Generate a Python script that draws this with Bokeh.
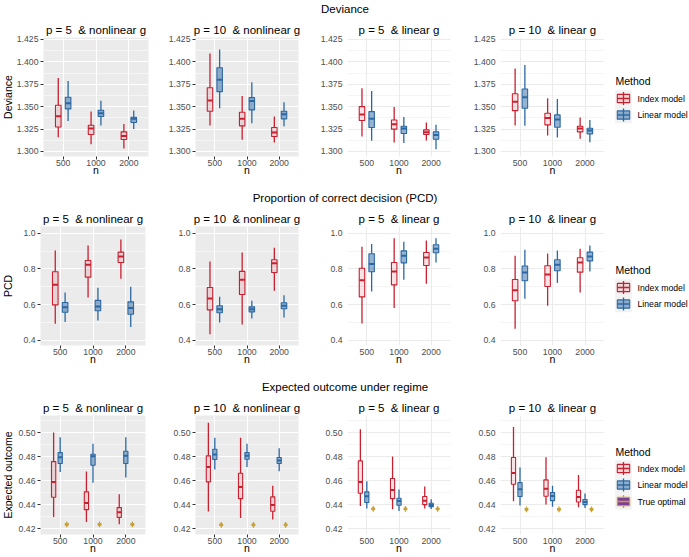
import math
from bokeh.plotting import figure
from bokeh.layouts import column, row
from bokeh.models import Range1d, FixedTicker, ColumnDataSource, NumeralTickFormatter
from bokeh.core.properties import value
from bokeh.embed import file_html
from bokeh.resources import INLINE

FONT = "Liberation Sans"
NB = "\u00a0"

# ---------------- data ----------------
n_levels = ["500", "1000", "2000"]
section_titles = ["Deviance", "Proportion of correct decision (PCD)", "Expected outcome under regime"]
panel_titles = ["p = 5" + NB + NB + "& nonlinear g", "p = 10" + NB + NB + "& nonlinear g",
                "p = 5" + NB + NB + "& linear g", "p = 10" + NB + NB + "& linear g"]
y_axis_titles = ["Deviance", "PCD", "Expected outcome"]
method_names = ["Index model", "Linear model", "True optimal"]

dev_ticks = [1.300, 1.325, 1.350, 1.375, 1.400, 1.425]
dev_minor = [1.3125, 1.3375, 1.3625, 1.3875, 1.4125]
pcd_ticks = [0.4, 0.6, 0.8, 1.0]
pcd_minor = [0.5, 0.7, 0.9]
eo_ticks = [0.42, 0.44, 0.46, 0.48, 0.50]
eo_minor = [0.43, 0.45, 0.47, 0.49, 0.51]

# five-number summaries [lower whisker, Q1, median, Q3, upper whisker] for n = 500, 1000, 2000
dev_p5_nl_index = [[1.316, 1.3274, 1.3393, 1.3516, 1.382], [1.308, 1.3189, 1.3256, 1.3293, 1.3445], [1.3033, 1.3134, 1.3174, 1.3219, 1.3308]]
dev_p5_nl_linear = [[1.334, 1.3475, 1.3538, 1.3605, 1.3786], [1.329, 1.339, 1.3427, 1.346, 1.3567], [1.3252, 1.3323, 1.3364, 1.3382, 1.3456]]
dev_p10_nl_index = [[1.3289, 1.3449, 1.3568, 1.3712, 1.4094], [1.313, 1.3286, 1.3364, 1.3438, 1.3619], [1.31, 1.3167, 1.3211, 1.3267, 1.339]]
dev_p10_nl_linear = [[1.3482, 1.3668, 1.3801, 1.3935, 1.4139], [1.3315, 1.3464, 1.3564, 1.3601, 1.3772], [1.3282, 1.3364, 1.3415, 1.3449, 1.3549]]
dev_p5_l_index = [[1.3167, 1.3345, 1.3412, 1.3501, 1.3705], [1.31, 1.3249, 1.3304, 1.3352, 1.3497], [1.3122, 1.3189, 1.3215, 1.3241, 1.3323]]
dev_p5_l_linear = [[1.3119, 1.3267, 1.3364, 1.3445, 1.3675], [1.3096, 1.32, 1.3256, 1.3282, 1.3386], [1.3026, 1.3137, 1.3185, 1.3219, 1.3297]]
dev_p10_l_index = [[1.3289, 1.3456, 1.3556, 1.3645, 1.3927], [1.3178, 1.3297, 1.3375, 1.3427, 1.3593], [1.3141, 1.3219, 1.3256, 1.3282, 1.3378]]
dev_p10_l_linear = [[1.3286, 1.3482, 1.3605, 1.3697, 1.3964], [1.3156, 1.3271, 1.3356, 1.3408, 1.3586], [1.3104, 1.3197, 1.3234, 1.326, 1.3352]]

pcd_p5_nl_index = [[0.493, 0.599, 0.711, 0.784, 0.903], [0.640, 0.754, 0.823, 0.847, 0.931], [0.745, 0.836, 0.870, 0.894, 0.965]]
pcd_p5_nl_linear = [[0.503, 0.558, 0.586, 0.612, 0.668], [0.512, 0.566, 0.590, 0.624, 0.695], [0.475, 0.547, 0.581, 0.616, 0.700]]
pcd_p10_nl_index = [[0.435, 0.571, 0.635, 0.696, 0.842], [0.489, 0.657, 0.739, 0.786, 0.892], [0.678, 0.780, 0.831, 0.851, 0.918]]
pcd_p10_nl_linear = [[0.501, 0.555, 0.575, 0.594, 0.644], [0.523, 0.560, 0.575, 0.588, 0.622], [0.529, 0.577, 0.594, 0.611, 0.653]]
pcd_p5_l_index = [[0.495, 0.644, 0.737, 0.804, 0.924], [0.581, 0.711, 0.786, 0.836, 0.972], [0.717, 0.819, 0.864, 0.892, 0.959]]
pcd_p5_l_linear = [[0.674, 0.784, 0.827, 0.885, 0.939], [0.739, 0.834, 0.873, 0.901, 0.952], [0.836, 0.890, 0.913, 0.935, 0.972]]
pcd_p10_l_index = [[0.465, 0.622, 0.681, 0.741, 0.873], [0.594, 0.702, 0.769, 0.818, 0.886], [0.668, 0.782, 0.836, 0.862, 0.913]]
pcd_p10_l_linear = [[0.633, 0.734, 0.780, 0.816, 0.907], [0.721, 0.790, 0.823, 0.851, 0.903], [0.786, 0.845, 0.870, 0.894, 0.931]]

eo_p5_nl_index = [[0.4297, 0.4461, 0.4589, 0.4758, 0.5000], [0.4256, 0.4358, 0.4414, 0.4506, 0.4675], [0.4236, 0.4294, 0.4336, 0.4375, 0.4486]]
eo_p5_nl_linear = [[0.4672, 0.4742, 0.4794, 0.4833, 0.4961], [0.4583, 0.4728, 0.4803, 0.4819, 0.4906], [0.4625, 0.4742, 0.4806, 0.4844, 0.4961]]
eo_p5_nl_optimal = [[0.4212, 0.4229, 0.4236, 0.4243, 0.4260]] * 3
eo_p10_nl_index = [[0.4342, 0.4589, 0.4714, 0.4806, 0.5081], [0.4289, 0.4450, 0.4547, 0.4661, 0.4956], [0.4275, 0.4344, 0.4397, 0.4464, 0.4558]]
eo_p10_nl_linear = [[0.4692, 0.4775, 0.4817, 0.4861, 0.4956], [0.4714, 0.4778, 0.4806, 0.4833, 0.4906], [0.4678, 0.4742, 0.4767, 0.4792, 0.4869]]
eo_p10_nl_optimal = [[0.4208, 0.4225, 0.4232, 0.4239, 0.4256]] * 3
eo_p5_l_index = [[0.4389, 0.4494, 0.4589, 0.4764, 0.5028], [0.4361, 0.4450, 0.4522, 0.4617, 0.4800], [0.4367, 0.4400, 0.4433, 0.4467, 0.4550]]
eo_p5_l_linear = [[0.4367, 0.4417, 0.4469, 0.4506, 0.4594], [0.4347, 0.4394, 0.4431, 0.4453, 0.4525], [0.4364, 0.4383, 0.4397, 0.4411, 0.4444]]
eo_p5_l_optimal = [[0.4340, 0.4357, 0.4364, 0.4371, 0.4388]] * 3
eo_p10_l_index = [[0.4428, 0.4569, 0.4664, 0.4792, 0.5047], [0.4400, 0.4469, 0.4533, 0.4606, 0.4794], [0.4378, 0.4422, 0.4464, 0.4519, 0.4647]]
eo_p10_l_linear = [[0.4392, 0.4467, 0.4528, 0.4583, 0.4708], [0.4383, 0.4433, 0.4472, 0.4500, 0.4558], [0.4372, 0.4400, 0.4422, 0.4442, 0.4492]]
eo_p10_l_optimal = [[0.4337, 0.4354, 0.4361, 0.4368, 0.4385]] * 3

# ---------------- style ----------------
IDX_LINE, IDX_FILL, IDX_ALPHA = "#C8202F", "#C8202F", 0.12
LIN_LINE, LIN_FILL, LIN_ALPHA = "#2B68A3", "#2B68A3", 0.5
OPT_LINE, OPT_FILL, OPT_ALPHA = "#C9A232", "#7E3F98", 1.0
STYLES = [(IDX_LINE, IDX_FILL, IDX_ALPHA), (LIN_LINE, LIN_FILL, LIN_ALPHA), (OPT_LINE, OPT_FILL, OPT_ALPHA)]

TICK_FS = "8.7px"
AXT_FS = "10.5px"
TITLE_FS = "11.5px"

FRAME_H = 119
TOP = 20
SEC_H = 17
BOTTOMS = [33, 33, 23]
YLAB_W = 13
P1_LEFT = [30, 27, 27]
P2_LEFT = [42, 45, 45]
# (min_border_left, frame_width, min_border_right) per panel column (cols 0/1 left border per row above)
DIMS = [(None, 105, 5), (None, 103, 4), (45, 103, 4), (46, 104, 0)]
LEG_W = 85


def bare_fig(w, h, y_range):
    p = figure(width=w, height=h, x_range=Range1d(0, w), y_range=y_range,
               x_axis_type=None, y_axis_type=None, min_border=0,
               output_backend="svg", toolbar_location=None)
    p.outline_line_color = None
    return p


def draw_boxes(p, stats, x_centers, box_w, style):
    lc, fc, fa = style
    src = ColumnDataSource(dict(
        x=x_centers,
        left=[x - box_w / 2 for x in x_centers],
        right=[x + box_w / 2 for x in x_centers],
        lw=[s[0] for s in stats], q1=[s[1] for s in stats], med=[s[2] for s in stats],
        q3=[s[3] for s in stats], uw=[s[4] for s in stats]))
    p.segment(x0="x", y0="q3", x1="x", y1="uw", source=src, line_color=lc, line_width=1.3)
    p.segment(x0="x", y0="lw", x1="x", y1="q1", source=src, line_color=lc, line_width=1.3)
    p.quad(left="left", right="right", bottom="q1", top="q3", source=src,
           fill_color=fc, fill_alpha=fa, line_color=lc, line_width=1.1)
    p.segment(x0="left", y0="med", x1="right", y1="med", source=src, line_color=lc, line_width=2)


def make_panel(col, r, series, ticks, minor, yrange, fmt):
    left, fw, right = DIMS[col]
    if col == 0:
        left = P1_LEFT[r]
    elif col == 1:
        left = P2_LEFT[r]
    gray = col < 2
    p = figure(frame_width=fw, frame_height=FRAME_H, min_border_left=left, min_border_right=right,
               min_border_top=TOP, min_border_bottom=BOTTOMS[r],
               x_range=Range1d(0.4, 3.6), y_range=Range1d(*yrange),
               output_backend="svg", toolbar_location=None)
    p.title.text = panel_titles[col]
    p.title.align = "center"
    p.title.text_font = FONT
    p.title.text_font_size = TITLE_FS
    p.title.text_font_style = "normal"
    p.title.text_color = "black"
    p.title.standoff = 3
    p.outline_line_color = None
    p.xaxis.ticker = FixedTicker(ticks=[1, 2, 3])
    p.xaxis.major_label_overrides = {i + 1: lab for i, lab in enumerate(n_levels)}
    p.xaxis.axis_label = "n"
    p.yaxis.ticker = FixedTicker(ticks=ticks, minor_ticks=minor)
    p.yaxis.formatter = NumeralTickFormatter(format=fmt)
    for ax in (p.xaxis[0], p.yaxis[0]):
        ax.major_label_text_font = FONT
        ax.major_label_text_font_size = TICK_FS
        ax.major_label_text_color = "#4D4D4D"
        ax.axis_label_text_font = FONT
        ax.axis_label_text_font_size = AXT_FS
        ax.axis_label_text_font_style = "normal"
        ax.axis_label_text_color = "black"
        ax.axis_line_color = None
        ax.minor_tick_line_color = None
        ax.major_tick_in = 0
        ax.major_tick_out = 3
        ax.major_tick_line_color = "#333333" if gray else None
    p.xaxis.major_label_standoff = 0
    p.xaxis.axis_label_standoff = -5
    p.yaxis.major_label_standoff = 1
    if gray:
        p.background_fill_color = "#EBEBEB"
        gcol = "white"
    else:
        p.background_fill_color = "white"
        gcol = "#EBEBEB"
    p.xgrid.grid_line_color = gcol
    p.xgrid.grid_line_width = 1.1
    p.ygrid.grid_line_color = gcol
    p.ygrid.grid_line_width = 1.1
    p.ygrid.minor_grid_line_color = gcol
    p.ygrid.minor_grid_line_width = 0.55

    k = len(series)
    if k == 2:
        offsets, widths = [-0.15, 0.15], [0.17, 0.17]
    else:
        offsets, widths = [-0.2, 0.0, 0.2], [0.13, 0.13, 0.09]
    for m, stats in enumerate(series):
        xs = [i + 1 + offsets[m] for i in range(len(n_levels))]
        draw_boxes(p, stats, xs, widths[m], STYLES[m])
    return p


def make_section(text):
    p = bare_fig(689, SEC_H, Range1d(SEC_H, 0))
    p.text(x=[344.5], y=[SEC_H / 2], text=[text], text_align="center", text_baseline="middle",
           text_font=value(FONT), text_font_size=TITLE_FS, text_color="black")
    return p


def row_fig(w, r):
    # frames in a row are aligned with the panels' frames: map y to pixels from the row top
    h = TOP + FRAME_H + BOTTOMS[r]
    return bare_fig(w, h, Range1d(TOP + FRAME_H, TOP))


def make_ylabel(r):
    p = row_fig(YLAB_W, r)
    p.text(x=[7], y=[TOP + FRAME_H / 2], text=[y_axis_titles[r]], angle=math.pi / 2,
           text_align="center", text_baseline="middle",
           text_font=value(FONT), text_font_size=AXT_FS, text_color="black")
    return p


def make_legend(r, n_methods, title_y, first_key_y):
    p = row_fig(LEG_W, r)
    p.text(x=[11], y=[title_y], text=["Method"], text_align="left", text_baseline="middle",
           text_font=value(FONT), text_font_size=AXT_FS, text_color="black")
    ks = 16.5
    kx = 19
    for m in range(n_methods):
        cy = first_key_y + m * ks
        lc, fc, fa = STYLES[m]
        p.quad(left=[kx - ks / 2], right=[kx + ks / 2], top=[cy - ks / 2], bottom=[cy + ks / 2],
               fill_color="#F2F2F2", line_color=None)
        p.segment(x0=[kx], y0=[cy - ks * 0.4], x1=[kx], y1=[cy + ks * 0.4], line_color=lc, line_width=1.3)
        p.quad(left=[kx - ks * 0.375], right=[kx + ks * 0.375], top=[cy - ks * 0.25], bottom=[cy + ks * 0.25],
               fill_color=fc, fill_alpha=fa, line_color=lc, line_width=1.1)
        p.segment(x0=[kx - ks * 0.375], y0=[cy], x1=[kx + ks * 0.375], y1=[cy], line_color=lc, line_width=1.3)
        p.text(x=[33], y=[cy], text=[method_names[m]], text_align="left", text_baseline="middle",
               text_font=value(FONT), text_font_size=TICK_FS, text_color="black")
    return p


rows_spec = [
    ([[dev_p5_nl_index, dev_p5_nl_linear], [dev_p10_nl_index, dev_p10_nl_linear],
      [dev_p5_l_index, dev_p5_l_linear], [dev_p10_l_index, dev_p10_l_linear]],
     dev_ticks, dev_minor, (1.2944, 1.4272), "0.000", 2, 63, 81),
    ([[pcd_p5_nl_index, pcd_p5_nl_linear], [pcd_p10_nl_index, pcd_p10_nl_linear],
      [pcd_p5_l_index, pcd_p5_l_linear], [pcd_p10_l_index, pcd_p10_l_linear]],
     pcd_ticks, pcd_minor, (0.372, 1.037), "0.0", 2, 63, 81),
    ([[eo_p5_nl_index, eo_p5_nl_linear, eo_p5_nl_optimal], [eo_p10_nl_index, eo_p10_nl_linear, eo_p10_nl_optimal],
      [eo_p5_l_index, eo_p5_l_linear, eo_p5_l_optimal], [eo_p10_l_index, eo_p10_l_linear, eo_p10_l_optimal]],
     eo_ticks, eo_minor, (0.4151, 0.5142), "0.00", 3, 56, 73),
]

blocks = []
for r, (panels, ticks, minor, yr, fmt, nm, ty, ky) in enumerate(rows_spec):
    figs = [make_ylabel(r)]
    figs += [make_panel(c, r, panels[c], ticks, minor, yr, fmt) for c in range(4)]
    figs.append(make_legend(r, nm, ty, ky))
    blocks.append(make_section(section_titles[r]))
    blocks.append(row(*figs, spacing=0))

layout = column(*blocks, spacing=0)
open("out.html", "w").write(file_html(layout, INLINE))
